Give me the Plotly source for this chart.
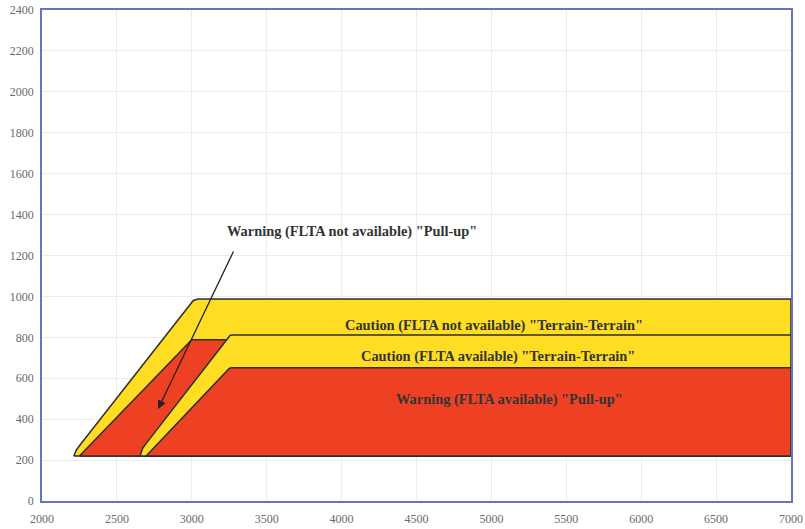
import plotly.graph_objects as go

# --- data (distance vs height envelopes) ---
caution_nf_x = [2212, 2230, 2255, 2990, 3010, 3040, 7000, 7000]
caution_nf_y = [220, 250, 275, 965, 980, 987, 987, 220]

warning_nf_x = [2250, 3000, 7000, 7000]
warning_nf_y = [220, 788, 788, 220]

caution_av_x = [2655, 2672, 2697, 3243, 3255, 3270, 7000, 7000]
caution_av_y = [220, 258, 283, 803, 809, 811, 811, 220]

warning_av_x = [2695, 3250, 3265, 7000, 7000]
warning_av_y = [220, 648, 651, 651, 220]

labels = [
    'Caution (FLTA not available) "Terrain-Terrain"',
    'Caution (FLTA available) "Terrain-Terrain"',
    'Warning (FLTA available) "Pull-up"',
    'Warning (FLTA not available) "Pull-up"',
]
label_x = [5017, 5045, 5121, 4070]
label_y = [860, 705, 494, 1316]

arrow_tail = (3283, 1227)
arrow_tip = (2775, 450)

x_ticks = list(range(2000, 7001, 500))
y_ticks = list(range(0, 2401, 200))

YELLOW = "#FFDD22"
RED = "#EE4124"
EDGE = "#2e2e2e"

fig = go.Figure()
for xs, ys, col in [
    (caution_nf_x, caution_nf_y, YELLOW),
    (warning_nf_x, warning_nf_y, RED),
    (caution_av_x, caution_av_y, YELLOW),
    (warning_av_x, warning_av_y, RED),
]:
    fig.add_trace(go.Scatter(
        x=xs + [xs[0]], y=ys + [ys[0]], mode="lines", fill="toself",
        fillcolor=col, line=dict(color=EDGE, width=1.5),
        hoverinfo="skip", showlegend=False,
    ))

font_lbl = dict(family="Liberation Serif", size=14.4, color="#333333")
for t, lx, ly in zip(labels, label_x, label_y):
    fig.add_annotation(x=lx, y=ly, text="<b>" + t + "</b>", showarrow=False,
                       font=font_lbl, xref="x", yref="y")

fig.add_annotation(x=arrow_tip[0], y=arrow_tip[1], ax=arrow_tail[0], ay=arrow_tail[1],
                   axref="x", ayref="y", xref="x", yref="y", text="",
                   showarrow=True, arrowhead=2, arrowsize=1.3, arrowwidth=1.3,
                   arrowcolor="#222222")

axis_common = dict(
    showgrid=True, gridcolor="#ebebf0", gridwidth=1,
    showline=True, linecolor="#6674bb", linewidth=1.5, mirror=True,
    zeroline=False, automargin=False,
    tickfont=dict(family="Liberation Serif", size=12, color="#6a6a6a"),
)

fig.update_xaxes(range=[2000, 7000], tickvals=x_ticks,
                 ticks="outside", ticklen=6, tickcolor="rgba(0,0,0,0)", **axis_common)
fig.update_yaxes(range=[0, 2400], tickvals=y_ticks,
                 ticks="outside", ticklen=4, tickcolor="rgba(0,0,0,0)", **axis_common)

fig.update_layout(
    width=805, height=529,
    margin=dict(l=42, r=14, t=10, b=28),
    plot_bgcolor="white", paper_bgcolor="white",
    showlegend=False,
)

fig.write_html("out.html", config={"displayModeBar": False},
               post_script="document.body.style.margin='0px';document.body.style.overflow='hidden';")
